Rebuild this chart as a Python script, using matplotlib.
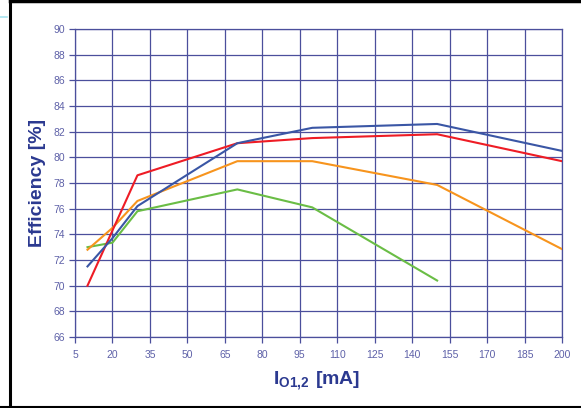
import matplotlib
matplotlib.use("Agg")
import matplotlib.pyplot as plt
from matplotlib.lines import Line2D

# Data
red_x = [10, 30, 70, 100, 150, 200]
red_y = [70.0, 78.6, 81.1, 81.5, 81.8, 79.7]
blue_x = [10, 20, 30, 70, 100, 150, 200]
blue_y = [71.5, 73.7, 76.2, 81.1, 82.3, 82.6, 80.5]
orange_x = [10, 20, 30, 70, 100, 150, 200]
orange_y = [72.8, 74.5, 76.6, 79.7, 79.7, 77.85, 72.85]
green_x = [10, 20, 30, 70, 100, 150]
green_y = [73.0, 73.35, 75.8, 77.5, 76.1, 70.4]

x_ticks = list(range(5, 201, 15))
y_ticks = list(range(66, 91, 2))

plt.rcParams['font.family'] = ['Liberation Sans', 'DejaVu Sans']
plt.rcParams['mathtext.fontset'] = 'custom'
plt.rcParams['mathtext.bf'] = 'Liberation Sans:bold'
plt.rcParams['mathtext.rm'] = 'Liberation Sans'

W, H = 581, 408
fig = plt.figure(figsize=(W / 100, H / 100), dpi=100)
fig.patch.set_facecolor('white')

L, R, T, B = 75, 562, 29, 337
ax = fig.add_axes([L / W, (H - B) / H, (R - L) / W, (B - T) / H])

grid_c = '#4b4f9c'
tick_c = '#5e61a8'
label_c = '#2b3990'

ax.plot(green_x, green_y, color='#6abd45', lw=1.5, zorder=3)
ax.plot(orange_x, orange_y, color='#f7941d', lw=1.5, zorder=3)
ax.plot(red_x, red_y, color='#ee1c25', lw=1.5, zorder=4)
ax.plot(blue_x, blue_y, color='#3a56a5', lw=1.5, zorder=5)

ax.set_xlim(5, 200)
ax.set_ylim(66, 90)
ax.set_xticks(x_ticks)
ax.set_yticks(y_ticks)
ax.grid(True, color=grid_c, lw=0.9)
ax.set_axisbelow(True)
for s in ax.spines.values():
    s.set_color(grid_c)
    s.set_linewidth(0.9)
ax.tick_params(axis='both', colors=grid_c, labelcolor=tick_c, labelsize=7.5,
               length=4, width=0.9, direction='out')
ax.tick_params(axis='x', pad=5)
ax.tick_params(axis='y', pad=3)

fig.text(38 / W, 1 - 183 / H, 'Efficiency [%]', rotation=90, ha='center', va='center',
         fontsize=14, fontweight='bold', color=label_c)
fig.text(317 / W, 1 - 381 / H, r'$\mathbf{I_{O1{,}2}\ [mA]}$', ha='center', va='center',
         fontsize=14, color=label_c)

# frame lines
fig.add_artist(Line2D([10 / W, 10 / W], [0, 1], transform=fig.transFigure, color='black', lw=2.2))
fig.add_artist(Line2D([10 / W, 1], [1 - 1 / H, 1 - 1 / H], transform=fig.transFigure, color='black', lw=2.5))
fig.add_artist(Line2D([0, 1], [1 - 406.5 / H, 1 - 406.5 / H], transform=fig.transFigure, color='black', lw=1.5))
fig.add_artist(Line2D([0, 7 / W], [1 - 17 / H, 1 - 17 / H], transform=fig.transFigure, color='#a8e4f0', lw=1.2))

fig.savefig('out.png', dpi=100)
